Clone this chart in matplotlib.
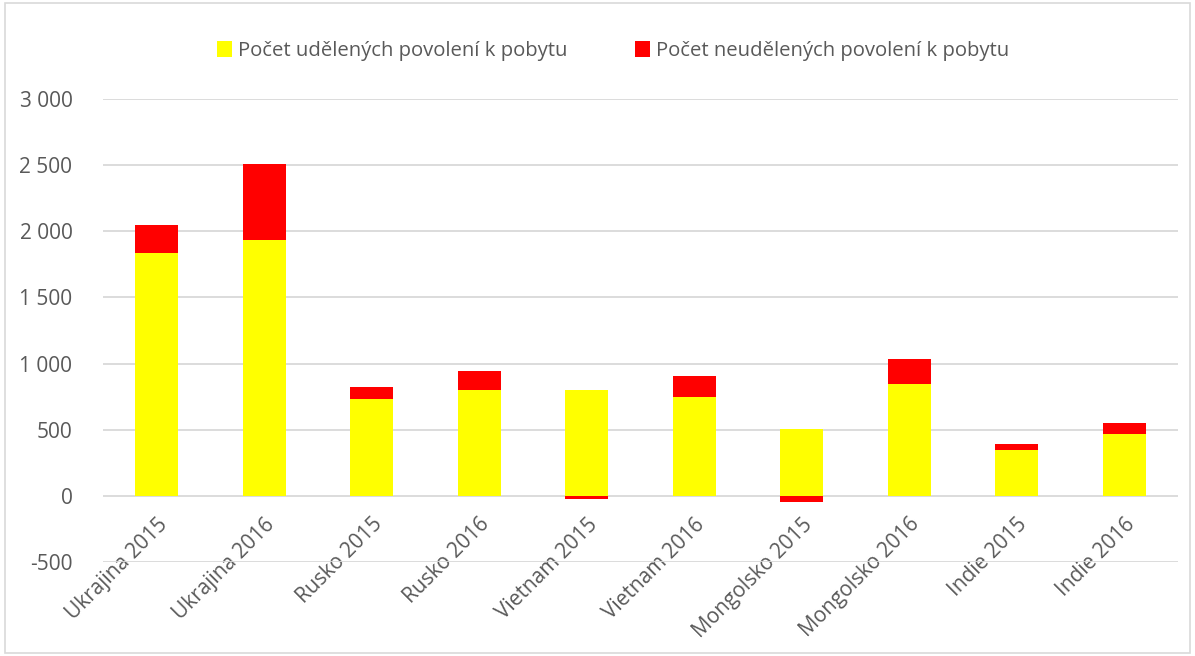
import numpy as np
import matplotlib.pyplot as plt
from matplotlib.ticker import FuncFormatter
from matplotlib.patches import Rectangle

categories = ["Ukrajina 2015", "Ukrajina 2016", "Rusko 2015", "Rusko 2016",
              "Vietnam 2015", "Vietnam 2016", "Mongolsko 2015", "Mongolsko 2016",
              "Indie 2015", "Indie 2016"]
udelene = [1835, 1935, 735, 803, 801, 748, 504, 844, 350, 469]
neudelene = [215, 570, 90, 142, -22, 159, -50, 189, 41, 83]

label_ud = "Počet udělených povolení k pobytu"
label_neud = "Počet neudělených povolení k pobytu"

plt.rcParams['font.family'] = ['Open Sans', 'DejaVu Sans']
grey = "#595959"

fig = plt.figure(figsize=(11.95, 6.56), dpi=100)
ax = fig.add_axes([103/1195, 1 - 562/656, 1075/1195, (562-99)/656])

x = np.arange(len(categories))
ud = np.array(udelene)
ne = np.array(neudelene)
# negative values go below zero, positive ones stack on top of the yellow
bottoms = np.where(ne >= 0, ud, 0)
ax.bar(x, ud, width=0.4, color="#FFFF00", label=label_ud, zorder=3)
ax.bar(x, ne, width=0.4, bottom=bottoms, color="#FF0000", label=label_neud, zorder=3)

ax.set_xlim(-0.5, len(categories) - 0.5)
ax.set_ylim(-500, 3000)
ax.set_yticks(np.arange(-500, 3001, 500))
ax.yaxis.set_major_formatter(FuncFormatter(lambda v, p: f"{int(v):,}".replace(",", " ")))
ax.grid(axis="y", color="#D9D9D9", linewidth=1.3, zorder=0)
ax.set_axisbelow(True)
for s in ax.spines.values():
    s.set_visible(False)
# category labels sit at the zero line like in Excel
ax.spines["bottom"].set_position(("data", 0))
ax.tick_params(axis="both", length=0, labelsize=15, colors=grey)
ax.tick_params(axis="y", pad=22)
ax.set_xticks(x)
ax.set_xticklabels(categories, rotation=45, ha="right", va="top", rotation_mode="anchor")
ax.tick_params(axis="x", pad=13)

leg = fig.legend(loc="upper center", bbox_to_anchor=(0.513, 0.965), ncol=2, frameon=False,
                 fontsize=14.6, handlelength=0.75, handleheight=0.85, columnspacing=3.3,
                 handletextpad=0.3)
for t in leg.get_texts():
    t.set_color(grey)

fig.patches.append(Rectangle((0.004, 0.004), 0.992, 0.992, transform=fig.transFigure,
                             fill=False, edgecolor="#D9D9D9", linewidth=1.2))

fig.savefig("out.png", dpi=100)
